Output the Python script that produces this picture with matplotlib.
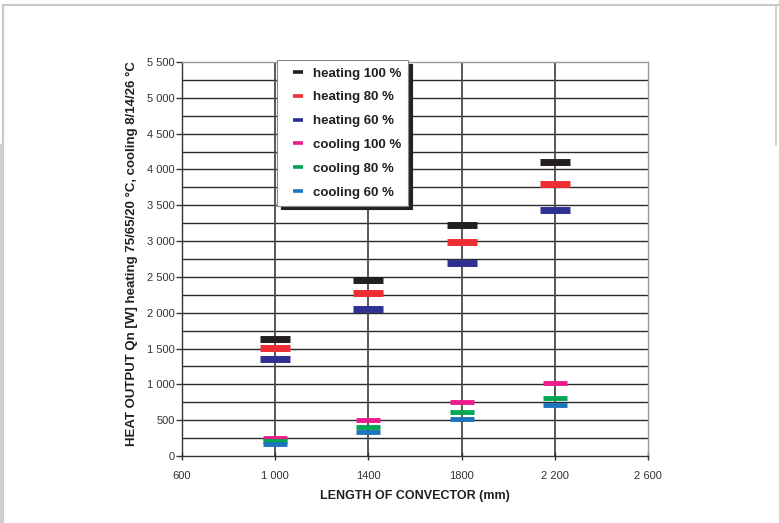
import matplotlib
matplotlib.use("Agg")
import matplotlib.pyplot as plt
from matplotlib.lines import Line2D

plt.rcParams['font.family'] = ['Liberation Sans', 'DejaVu Sans']

# ---- data ----
lengths = [1000, 1400, 1800, 2200]
heating_100 = [1635, 2460, 3230, 4100]
heating_80 = [1505, 2275, 2985, 3795]
heating_60 = [1360, 2055, 2700, 3430]
cooling_100 = [255, 505, 760, 1015]
cooling_80 = [210, 405, 612, 815]
cooling_60 = [165, 340, 522, 705]

series_labels = ["heating 100 %", "heating 80 %", "heating 60 %",
                 "cooling 100 %", "cooling 80 %", "cooling 60 %"]
series_colors = ["#231f20", "#ee2e33", "#2e3192", "#ec1c8c", "#00a651", "#1c75bc"]

x_ticks = [600, 1000, 1400, 1800, 2200, 2600]
x_ticklabels = ["600", "1 000", "1400", "1800", "2 200", "2 600"]
y_ticks = [0, 500, 1000, 1500, 2000, 2500, 3000, 3500, 4000, 4500, 5000, 5500]
y_ticklabels = ["0", "500", "1 000", "1 500", "2 000", "2 500", "3 000",
                "3 500", "4 000", "4 500", "5 000", "5 500"]
y_grid = list(range(250, 5500, 250))

xlabel = "LENGTH OF CONVECTOR (mm)"
ylabel = "HEAT OUTPUT Qn [W] heating 75/65/20 °C, cooling 8/14/26 °C"

# ---- figure ----
W, H = 779, 523
fig = plt.figure(figsize=(W / 100, H / 100), dpi=100)
ax = fig.add_axes([182 / W, 1 - 456 / H, (648 - 182) / W, (456 - 62) / H])

ax.set_xlim(600, 2600)
ax.set_ylim(0, 5500)

# grid
for yv in y_grid:
    ax.axhline(yv, color="#2a2a2a", lw=1.0, zorder=1)
for xv in x_ticks[1:-1]:
    ax.axvline(xv, color="#4a4a4a", lw=1.3, zorder=1)

# bars (markers)
heating = [heating_100, heating_80, heating_60]
cooling = [cooling_100, cooling_80, cooling_60]
for vals, col in zip(heating, series_colors[:3]):
    ax.plot(lengths, vals, ls="none", marker="_", ms=21.6, mew=5.0,
            color=col, zorder=3)
for vals, col in zip(cooling, series_colors[3:]):
    ax.plot(lengths, vals, ls="none", marker="_", ms=17.3, mew=3.5,
            color=col, zorder=3)

# spines
for s in ["top", "right"]:
    ax.spines[s].set_color("#9a9a9a")
    ax.spines[s].set_linewidth(1.0)
for s in ["left", "bottom"]:
    ax.spines[s].set_color("#333333")
    ax.spines[s].set_linewidth(1.0)

ax.set_xticks(x_ticks)
ax.set_xticklabels(x_ticklabels)
ax.set_yticks(y_ticks)
ax.set_yticklabels(y_ticklabels)
ax.tick_params(axis="y", direction="out", length=4, width=1.0, color="#333333",
               pad=1, labelsize=8, labelcolor="#333333")
ax.tick_params(axis="x", direction="inout", length=6, width=1.0, color="#333333",
               pad=8, labelsize=8, labelcolor="#333333")

ax.set_xlabel(xlabel, fontsize=9, fontweight="bold", color="#231f20", labelpad=6)
ax.set_ylabel(ylabel, fontsize=9.5, fontweight="bold", color="#231f20")
ax.yaxis.set_label_coords(-0.094, 0.515)

# legend
handles = [Line2D([], [], ls="none", marker="_", ms=7.2, mew=2.6, color=c)
           for c in series_colors]
leg = ax.legend(handles, series_labels, loc="upper left",
                bbox_to_anchor=(0.204, 1.005), borderaxespad=0,
                prop={"weight": "bold", "size": 9.5},
                handlelength=2.0, handletextpad=0.15, borderpad=0.55,
                labelspacing=0.88, fancybox=False, framealpha=1,
                edgecolor="#8a8a8a",
                shadow={"ox": 2.5, "oy": -2.5, "color": "#222222", "alpha": 1})
leg.get_frame().set_linewidth(0.8)
leg.set_zorder(5)
for t in leg.get_texts():
    t.set_color("#231f20")

# page frame lines
fc = "#c8c8c8"
fig.add_artist(Line2D([3 / W, 1], [1 - 5 / H, 1 - 5 / H], color=fc, lw=1.5))
fig.add_artist(Line2D([3 / W, 3 / W], [0, 1 - 5 / H], color=fc, lw=1.5))
fig.add_artist(Line2D([1 / W, 1 / W], [0, 1 - 145 / H], color="#d0d0d0", lw=2.5))
fig.add_artist(Line2D([776 / W, 776 / W], [1 - 145 / H, 1 - 5 / H], color=fc, lw=1.2))

fig.savefig("out.png", dpi=100)
